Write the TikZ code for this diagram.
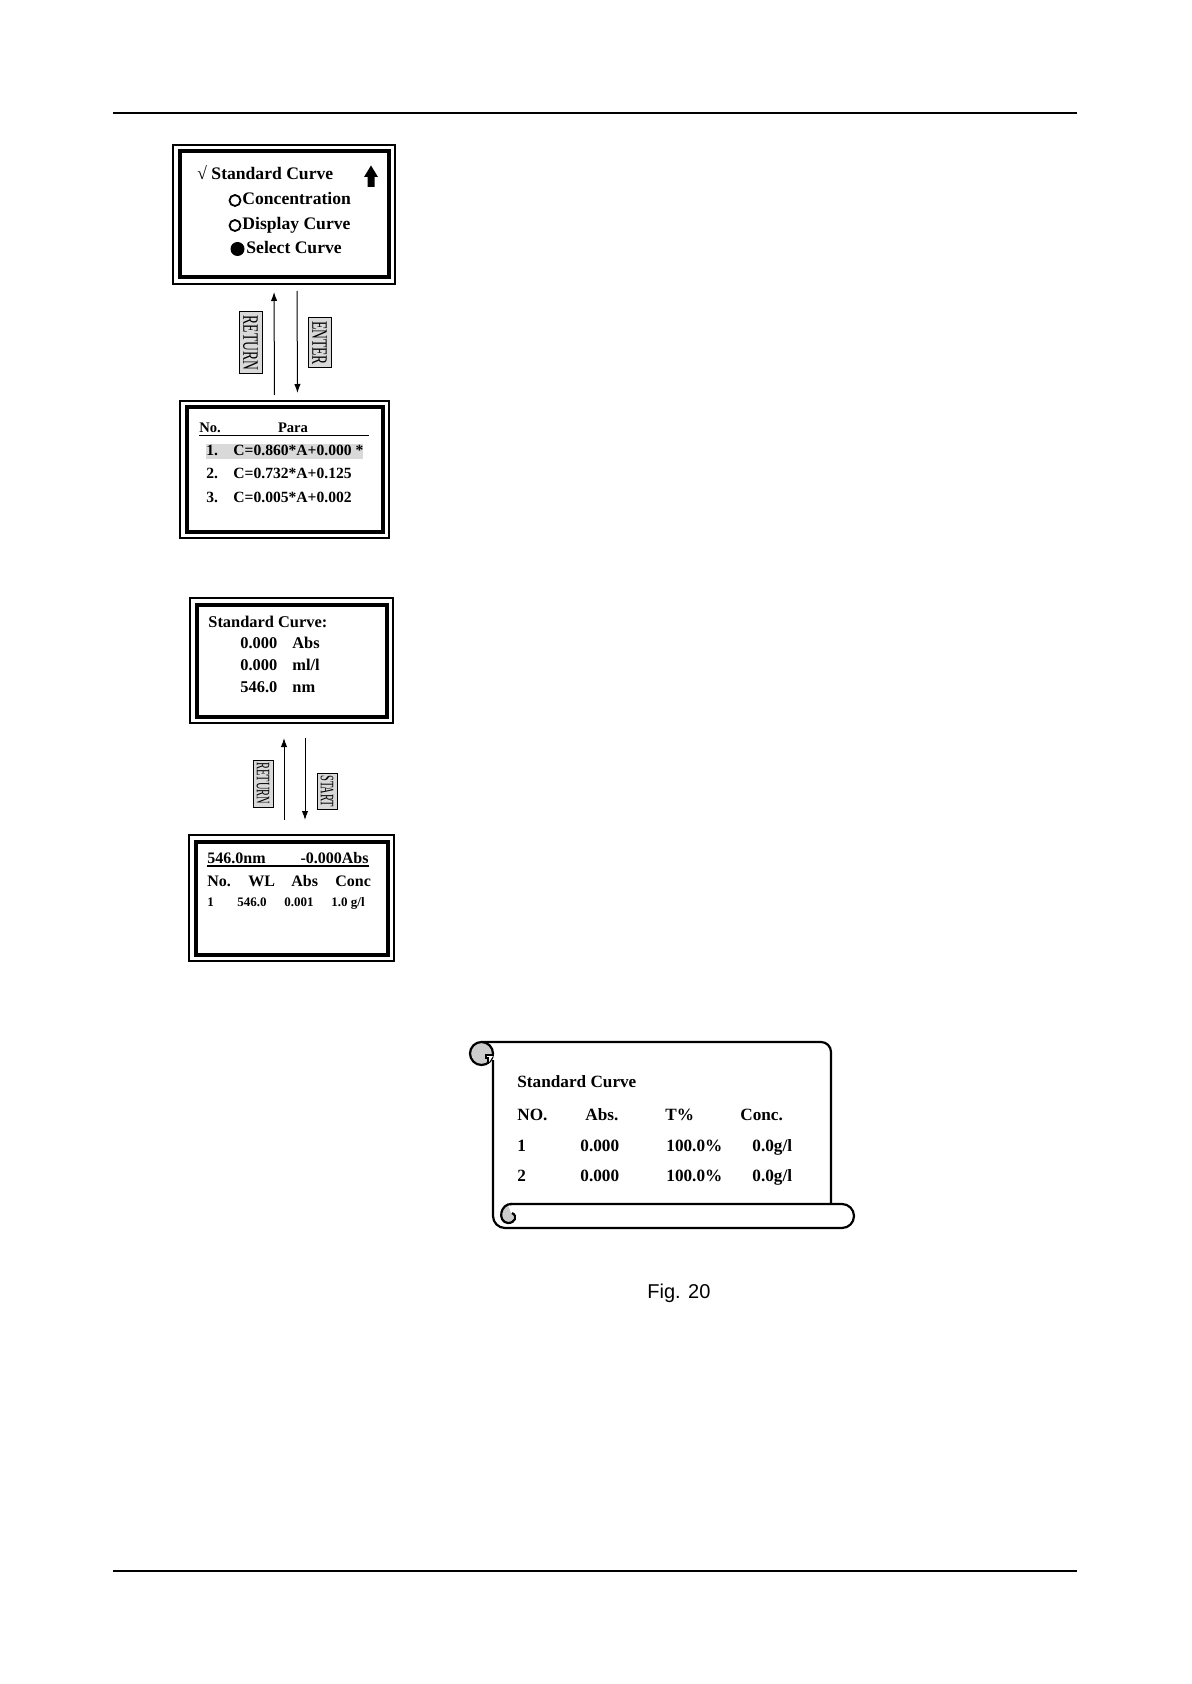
\documentclass[tikz,border=0pt]{standalone}
\usepackage{fontspec}
\usepackage{graphicx}
\setmainfont{Liberation Serif}
\newfontfamily\figfont{Liberation Sans}
\usepackage{tikz}
\usetikzlibrary{positioning}
\usetikzlibrary{arrows.meta}
\tikzstyle{screen} = [rectangle, draw, line width=2pt, inner sep=0pt]
\tikzstyle{frame} = [line width=0.6pt]
\tikzstyle{line} = [draw, line width=0.5pt, -{Latex[length=4.5pt,width=3.2pt]}]
\tikzstyle{key} = [rectangle, draw, line width=0.5pt, fill=gray!30, inner sep=0pt, rotate=-90]
\tikzstyle{menutext} = [font=\bfseries\fontsize{8.8}{10}\selectfont, inner sep=0pt, anchor=base west]
\tikzstyle{paratext} = [font=\bfseries\fontsize{7.8}{9}\selectfont, inner sep=0pt, anchor=base west]
\tikzstyle{livetext} = [font=\bfseries\fontsize{8.2}{9}\selectfont, inner sep=0pt, anchor=base west]
\tikzstyle{smalltext} = [font=\bfseries\fontsize{6.5}{8}\selectfont, inner sep=0pt, anchor=base west]
\tikzstyle{scrolltext} = [font=\bfseries\fontsize{8.6}{10}\selectfont, inner sep=0pt, anchor=base west]
\tikzstyle{scroll} = [line width=1.1pt]
\newcommand{\squeeze}[3]{{\fontsize{#1}{#1}\selectfont\scalebox{#2}[1]{#3}}}

\begin{document}
\begin{tikzpicture}[x=0.5pt, y=-0.5pt]
  \useasboundingbox (0,0) rectangle (1191,1684);

  \draw[line width=0.8pt] (113,113) -- (1077,113);
  \draw[line width=0.8pt] (113,1571) -- (1077,1571);

  \node [screen, minimum width=104.5pt, minimum height=63pt] (menu) at (284,214.5) {};
  \node [screen, minimum width=98pt, minimum height=62pt] (para) at (284.5,469.5) {};
  \node [screen, minimum width=95pt, minimum height=56pt] (live) at (291.5,660.5) {};
  \node [screen, minimum width=96pt, minimum height=56.5pt] (table) at (291.5,898) {};
  \foreach \b in {menu,para,live,table}
    \draw[frame] ([shift={(-2.25pt,2.25pt)}]\b.north west) rectangle ([shift={(2.25pt,-2.25pt)}]\b.south east);

  \node [menutext] (std) at (197,180) {√ Standard Curve};
  \draw[line width=0.9pt] (235,200.5) circle[radius=5.5];
  \node [menutext] (conc) at (242,205) {Concentration};
  \draw[line width=0.9pt] (235,225.5) circle[radius=5.5];
  \node [menutext] (disp) at (242,230) {Display Curve};
  \fill (237.5,249) circle[radius=7];
  \node [menutext] (sel) at (246,254) {Select Curve};
  \fill (371,165.5) -- (378,177) -- (374.5,177) -- (374.5,187) -- (367.5,187)
    -- (367.5,177) -- (364,177) -- cycle;

  \fill[gray!30] (206,444) rectangle (363,459);
  \node [paratext, font=\bfseries\fontsize{7.3}{9}\selectfont] (no) at (199,432) {No.};
  \node [paratext, font=\bfseries\fontsize{7.3}{9}\selectfont, anchor=base] (hpara) at (293,432) {Para};
  \draw[line width=0.7pt] (199,435.5) -- (369,435.5);
  \node [paratext] (n1) at (206,456) {1.};
  \node [paratext] (c1) at (233,456) {C=0.860*A+0.000 *};
  \node [paratext] (n2) at (206,479) {2.};
  \node [paratext] (c2) at (233,479) {C=0.732*A+0.125};
  \node [paratext] (n3) at (206,502) {3.};
  \node [paratext] (c3) at (233,502) {C=0.005*A+0.002};

  \path [line, shorten <=5.25pt, shorten >=6.25pt]
    ([xshift=-5pt]para.north) -- ([xshift=-5pt]menu.south);
  \path [line, shorten <=5.75pt, shorten >=6.25pt]
    ([xshift=6.5pt]menu.south) -- ([xshift=6.5pt]para.north);
  \node [key, minimum width=31pt, minimum height=11.5pt] (ret1) at (250.5,343) {\squeeze{11}{0.62}{RETURN}};
  \node [key, minimum width=25pt, minimum height=11.5pt] (ent) at (319.5,343) {\squeeze{11}{0.62}{ENTER}};

  \node [livetext] (lhead) at (208,627) {Standard Curve:};
  \node [livetext] (labs) at (240,648) {0.000};
  \node [livetext] (labsu) at (292,648) {Abs};
  \node [livetext] (lcon) at (240,670) {0.000};
  \node [livetext] (lconu) at (292,670) {ml/l};
  \node [livetext] (lwl) at (240,692) {546.0};
  \node [livetext] (lwlu) at (292,692) {nm};

  \path [line, shorten <=9.75pt, shorten >=9.75pt]
    ([xshift=-3.75pt]table.north) -- ([xshift=-3.75pt]live.south);
  \path [line, shorten <=9.75pt, shorten >=9.75pt]
    ([xshift=6.75pt]live.south) -- ([xshift=6.75pt]table.north);
  \node [key, minimum width=23.5pt, minimum height=10pt] (ret2) at (263,783.5) {\squeeze{9.5}{0.55}{RETURN}};
  \node [key, minimum width=18pt, minimum height=10pt] (start) at (327,791) {\squeeze{9.5}{0.55}{START}};

  \node [livetext, font=\bfseries\fontsize{8}{9}\selectfont] (twl) at (207,863) {546.0nm};
  \node [livetext, font=\bfseries\fontsize{8}{9}\selectfont, anchor=base east] (tabs) at (369,863) {-0.000Abs};
  \draw[line width=0.7pt] (207,866) -- (369,866);
  \node [livetext, font=\bfseries\fontsize{8}{9}\selectfont] (tno) at (207,886) {No.};
  \node [livetext, font=\bfseries\fontsize{8}{9}\selectfont] (twlh) at (248,886) {WL};
  \node [livetext, font=\bfseries\fontsize{8}{9}\selectfont] (tabsh) at (291,886) {Abs};
  \node [livetext, font=\bfseries\fontsize{8}{9}\selectfont] (tconch) at (335,886) {Conc};
  \node [smalltext] (t1) at (207,906) {1};
  \node [smalltext] (t2) at (237,906) {546.0};
  \node [smalltext] (t3) at (284,906) {0.001};
  \node [smalltext] (t4) at (331,906) {1.0 g/l};

  \draw[scroll, rounded corners=5pt] (481.5,1042) -- (831,1042) -- (831,1204);
  \draw[scroll, rounded corners=6pt] (493,1060) -- (493,1228) -- (854,1228) -- (854,1204) -- (510,1204);
  \filldraw[scroll, fill=gray!40] (481.5,1053.5) circle[radius=11.5];
  \filldraw[line width=0.8pt, fill=white] (493.5,1055) -- (486,1055) -- (486,1058) -- (488,1058) -- (488,1064);
  \fill[gray!40] (508,1205) .. controls (500,1205) and (498,1221) .. (508,1222)
    .. controls (514,1222) and (516,1216) .. (511,1213) -- cycle;
  \draw[scroll] (512,1204) .. controls (500,1203) and (497,1222) .. (508,1223)
    .. controls (515,1223) and (518,1216) .. (512,1213);

  \node [scrolltext] (shead) at (517,1087) {Standard Curve};
  \node [scrolltext] (sno) at (517,1120) {NO.};
  \node [scrolltext] (sabs) at (585,1120) {Abs.};
  \node [scrolltext] (st) at (665,1120) {T\%};
  \node [scrolltext] (sconc) at (740,1120) {Conc.};
  \node [scrolltext] (s1) at (517,1151) {1};
  \node [scrolltext] (s1a) at (580,1151) {0.000};
  \node [scrolltext] (s1t) at (666,1151) {100.0\%};
  \node [scrolltext] (s1c) at (752,1151) {0.0g/l};
  \node [scrolltext] (s2) at (517,1181) {2};
  \node [scrolltext] (s2a) at (580,1181) {0.000};
  \node [scrolltext] (s2t) at (666,1181) {100.0\%};
  \node [scrolltext] (s2c) at (752,1181) {0.0g/l};

  \node [font=\figfont\fontsize{10}{12}\selectfont, inner sep=0pt, anchor=base west] (cap) at (647,1298) {Fig. 20};
\end{tikzpicture}
\end{document}
